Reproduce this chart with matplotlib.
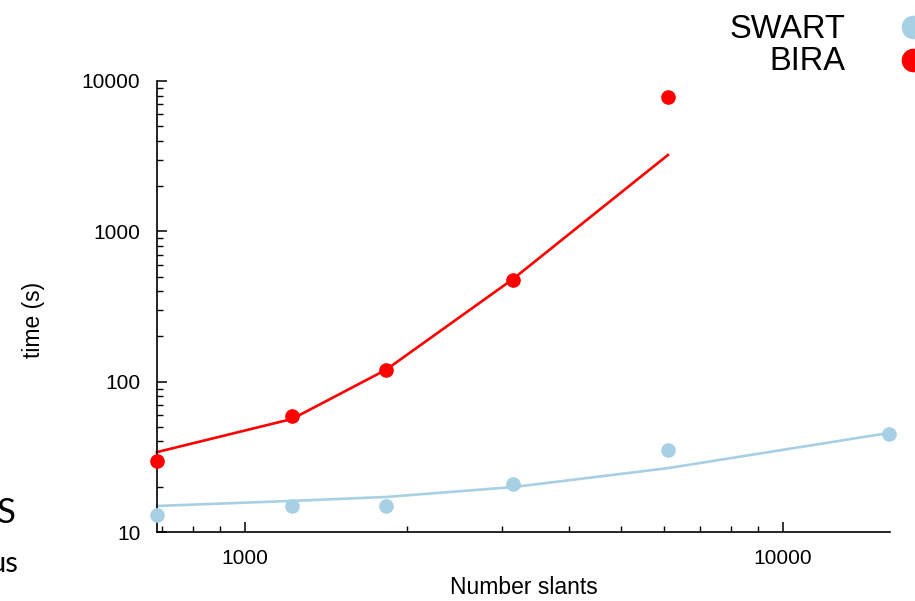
import matplotlib
matplotlib.use("Agg")
import matplotlib.pyplot as plt
from matplotlib.lines import Line2D

# measured points
slants = [686, 1223, 1828, 3148, 6109, 15740]
swart_time = [13.0, 14.9, 14.9, 20.8, 35.1, 44.9]
bira_slants = [686, 1223, 1828, 3148, 6109]
bira_time = [29.7, 59.2, 119.7, 475, 7840]

# fitted curves (values read at each x)
swart_fit = [14.9, 16.1, 17.1, 19.9, 26.6, 45.6]
bira_fit = [34.0, 56.5, 120, 482, 3220]

swart_col = "#a8d0e4"
bira_col = "#ff0000"

plt.rcParams["font.family"] = ["Liberation Sans", "DejaVu Sans"]

fig = plt.figure(figsize=(9.15, 6.01), dpi=100)
ax = fig.add_axes([157 / 915, 69 / 601, 733 / 915, 451 / 601])

ax.plot(slants, swart_fit, color=swart_col, lw=1.9, clip_on=False)
ax.plot(bira_slants, bira_fit, color=bira_col, lw=1.9, clip_on=False)
ax.plot(slants, swart_time, "o", color=swart_col, ms=9.5, clip_on=False, zorder=5)
ax.plot(bira_slants, bira_time, "o", color=bira_col, ms=9.5, clip_on=False, zorder=5)

ax.set_xscale("log")
ax.set_yscale("log")
ax.set_xlim(686, 15800)
ax.set_ylim(10, 10000)
ax.set_xticks([1000, 10000])
ax.set_xticklabels(["1000", "10000"])
ax.set_yticks([10, 100, 1000, 10000])
ax.set_yticklabels(["10", "100", "1000", "10000"])

ax.spines["top"].set_visible(False)
ax.spines["right"].set_visible(False)
for s in ["left", "bottom"]:
    ax.spines[s].set_linewidth(1.2)
ax.tick_params(which="major", direction="in", length=7, width=1.1, labelsize=15, pad=12)
ax.tick_params(which="minor", direction="in", length=4, width=1.0)

ax.set_xlabel("Number slants", fontsize=16.5)
ax.xaxis.set_label_coords(0.5, -0.097)
ax.set_ylabel("time (s)", fontsize=16.5)
ax.yaxis.set_label_coords(-0.153, 0.47)

# legend, top right, partly cut by the figure edge
fig.text(845 / 915, 1 - 29 / 601, "SWART", ha="right", va="center", fontsize=23.5)
fig.text(845 / 915, 1 - 62 / 601, "BIRA", ha="right", va="center", fontsize=23.5)
fig.add_artist(Line2D([913 / 915], [1 - 27 / 601], marker="o", ms=16, color=swart_col,
                      transform=fig.transFigure))
fig.add_artist(Line2D([913 / 915], [1 - 60 / 601], marker="o", ms=16, color=bira_col,
                      transform=fig.transFigure))

# bits of slide text at the left edge (cut off in the original too)
fig.text(17 / 915, 1 - 513 / 601, "ES", ha="right", va="center", fontsize=25,
         family=["Lato", "DejaVu Sans"])
fig.text(18 / 915, 1 - 564 / 601, "us", ha="right", va="center", fontsize=21,
         family=["Lato", "DejaVu Sans"])

fig.savefig("out.png", dpi=100)
